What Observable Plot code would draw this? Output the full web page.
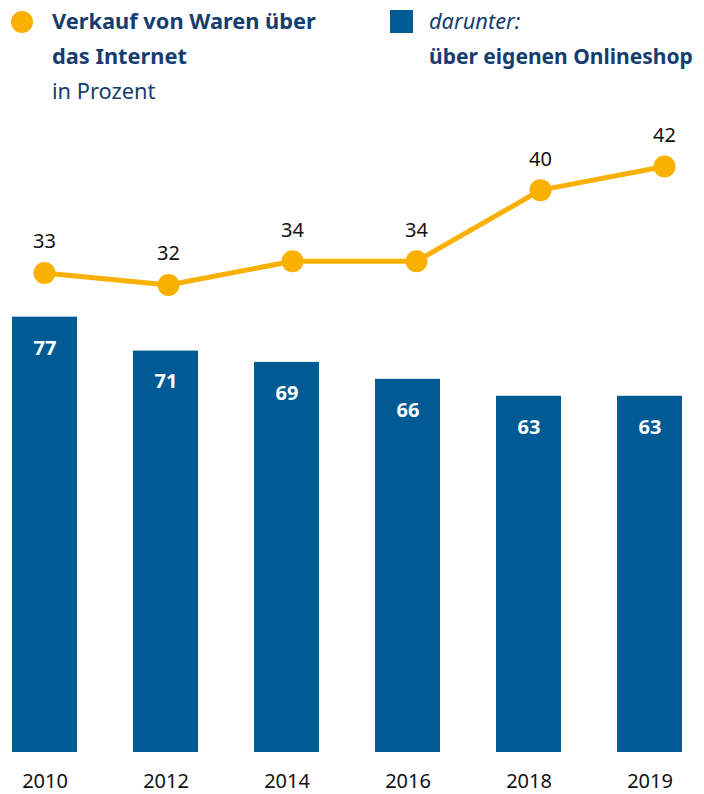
<!DOCTYPE html>
<html>
<head>
<meta charset="utf-8">
<script src="https://cdn.jsdelivr.net/npm/d3@7"></script>
<script src="https://cdn.jsdelivr.net/npm/@observablehq/plot@0.6"></script>
<style>
  body { margin: 0; background: #fff; font-family: "Noto Sans", sans-serif; }
  #legend { position: relative; width: 704px; height: 110px; color: #163d6e; font-size: 21.8px; line-height: 26px; }
  #legend div { position: absolute; white-space: nowrap; }
  .b { font-weight: bold; }
  .i { font-style: italic; }
  #chart { position: relative; width: 704px; height: 684px; }
  #chart svg { position: absolute; left: 0; top: 0; }
</style>
</head>
<body>
<div id="legend">
  <div style="left:11px;top:11px;width:22px;height:22px;border-radius:50%;background:#f9b000"></div>
  <div class="b" style="left:52px;top:8px">Verkauf von Waren über</div>
  <div class="b" style="left:52px;top:43px">das Internet</div>
  <div style="left:52px;top:78px">in Prozent</div>
  <div style="left:390px;top:10px;width:23px;height:23px;background:#005a94"></div>
  <div class="i" style="left:429px;top:8px">darunter:</div>
  <div class="b" style="left:429px;top:43px;font-size:21px">über eigenen Onlineshop</div>
</div>
<div id="chart"></div>
<script>
const years = ["2010", "2012", "2014", "2016", "2018", "2019"];
const internetSales = [33, 32, 34, 34, 40, 42];
const ownShop = [77, 71, 69, 66, 63, 63];

const bars = years.map((year, i) => ({year, value: ownShop[i]}));
const line = years.map((year, i) => ({year, value: internetSales[i]}));

const W = 704, H = 684;

const barPlot = Plot.plot({
  width: W, height: H,
  marginTop: 0, marginBottom: 42, marginLeft: 10, marginRight: 19,
  style: {fontFamily: "Noto Sans, sans-serif", background: "transparent"},
  x: {domain: years, paddingInner: 0.46, paddingOuter: 0},
  y: {domain: [0, 113.55], axis: null},
  marks: [
    Plot.barY(bars, {x: "year", y: "value", fill: "#005a94"}),
    Plot.text(bars, {x: "year", y: "value", text: d => String(d.value), dy: 31,
      fill: "white", fontWeight: "bold", fontSize: 20}),
    Plot.axisX({tickSize: 0, tickPadding: 21, fontSize: 20, fill: "#111", label: null})
  ]
});

const linePlot = Plot.plot({
  width: W, height: H,
  marginTop: 0, marginBottom: 42, marginLeft: 43, marginRight: 39,
  style: {fontFamily: "Noto Sans, sans-serif", background: "transparent"},
  x: {type: "point", domain: years, padding: 0, axis: null},
  y: {domain: [-7.46, 46.72], axis: null},
  marks: [
    Plot.line(line, {x: "year", y: "value", stroke: "#f9b000", strokeWidth: 5}),
    Plot.dot(line, {x: "year", y: "value", r: 11, fill: "#f9b000"}),
    Plot.text(line, {x: "year", y: "value", text: d => String(d.value), dy: -31,
      fill: "#111", fontSize: 20})
  ]
});

const chart = document.getElementById("chart");
chart.appendChild(barPlot);
chart.appendChild(linePlot);
</script>
</body>
</html>
